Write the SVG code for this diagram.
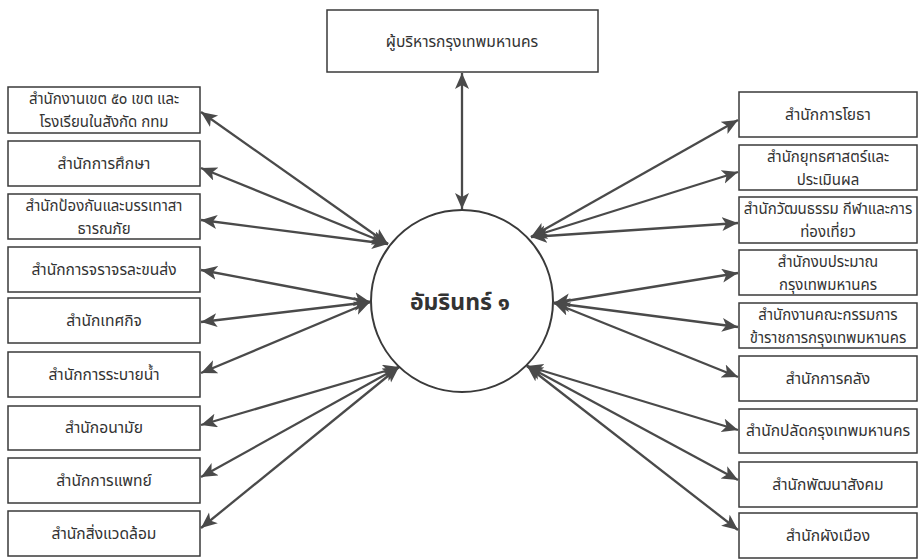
<svg xmlns="http://www.w3.org/2000/svg" width="919" height="559" viewBox="0 0 919 559">
<defs>
<style>
.box{fill:#fff;stroke:#3a3a3a;stroke-width:1.5}
.t{font-family:"Noto Sans Thai","Noto Sans Thai UI","Noto Sans","DejaVu Sans",sans-serif;font-size:15.6px;fill:#333;text-anchor:middle}
.t2{font-size:15px}
.big{font-family:"Noto Sans Thai","Noto Sans Thai UI","Noto Sans","DejaVu Sans",sans-serif;font-size:23px;font-weight:bold;fill:#333;text-anchor:middle}
.c{fill:none;stroke:#4a4a4a;stroke-width:2.3;marker-start:url(#ah);marker-end:url(#ah)}
</style>
<marker id="ah" markerUnits="userSpaceOnUse" markerWidth="18" markerHeight="16" refX="16" refY="7" orient="auto-start-reverse" viewBox="0 0 18 16">
<path d="M0,0 L16,7 L0,14 L4,7 Z" fill="#4a4a4a"/>
</marker>
</defs>
<rect width="919" height="559" fill="#fff"/>
<g id="connectors">
<line class="c" x1="462" y1="73" x2="462" y2="209"/>
<line class="c" x1="201" y1="112" x2="388" y2="244"/>
<line class="c" x1="201" y1="168" x2="388" y2="244"/>
<line class="c" x1="201" y1="220" x2="388" y2="244"/>
<line class="c" x1="201" y1="270" x2="370" y2="302"/>
<line class="c" x1="201" y1="322" x2="370" y2="302"/>
<line class="c" x1="201" y1="373" x2="370" y2="302"/>
<line class="c" x1="201" y1="425" x2="399" y2="367"/>
<line class="c" x1="201" y1="477" x2="399" y2="367"/>
<line class="c" x1="201" y1="528" x2="399" y2="367"/>
<line class="c" x1="738" y1="120" x2="531" y2="237"/>
<line class="c" x1="738" y1="172" x2="531" y2="237"/>
<line class="c" x1="738" y1="223" x2="531" y2="237"/>
<line class="c" x1="738" y1="273" x2="554" y2="303"/>
<line class="c" x1="738" y1="327" x2="554" y2="303"/>
<line class="c" x1="738" y1="377" x2="554" y2="303"/>
<line class="c" x1="738" y1="430" x2="527" y2="366"/>
<line class="c" x1="738" y1="480" x2="527" y2="366"/>
<line class="c" x1="738" y1="530" x2="527" y2="366"/>
</g>
<g id="center">
<circle cx="462" cy="301" r="91" fill="#fff" stroke="#3a3a3a" stroke-width="2"/>
<text class="big" x="460" y="310">อัมรินทร์ ๑</text>
</g>
<g id="top"><rect class="box" x="327" y="10" width="271" height="62"/><text class="t" x="462" y="47">ผู้บริหารกรุงเทพมหานคร</text></g>
<g id="l1"><rect class="box" x="8" y="87" width="192" height="46"/><text class="t t2" x="104" y="104">สำนักงานเขต ๕๐ เขต และ</text><text class="t t2" x="104" y="127">โรงเรียนในสังกัด กทม</text></g>
<g id="l2"><rect class="box" x="8" y="141" width="192" height="45"/><text class="t" x="104" y="169">สำนักการศึกษา</text></g>
<g id="l3"><rect class="box" x="8" y="194" width="192" height="45"/><text class="t t2" x="104" y="211">สำนักป้องกันและบรรเทาสา</text><text class="t t2" x="104" y="234">ธารณภัย</text></g>
<g id="l4"><rect class="box" x="8" y="247" width="192" height="45"/><text class="t" x="104" y="275">สำนักการจราจรละขนส่ง</text></g>
<g id="l5"><rect class="box" x="8" y="298" width="192" height="45"/><text class="t" x="104" y="326">สำนักเทศกิจ</text></g>
<g id="l6"><rect class="box" x="8" y="352" width="192" height="45"/><text class="t" x="104" y="380">สำนักการระบายน้ำ</text></g>
<g id="l7"><rect class="box" x="8" y="406" width="192" height="44"/><text class="t" x="104" y="433">สำนักอนามัย</text></g>
<g id="l8"><rect class="box" x="8" y="458" width="192" height="45"/><text class="t" x="104" y="486">สำนักการแพทย์</text></g>
<g id="l9"><rect class="box" x="8" y="511" width="192" height="45"/><text class="t" x="104" y="539">สำนักสิ่งแวดล้อม</text></g>
<g id="r1"><rect class="box" x="739" y="92" width="178" height="45"/><text class="t" x="828" y="120">สำนักการโยธา</text></g>
<g id="r2"><rect class="box" x="739" y="145" width="178" height="45"/><text class="t t2" x="828" y="162">สำนักยุทธศาสตร์และ</text><text class="t t2" x="828" y="185">ประเมินผล</text></g>
<g id="r3"><rect class="box" x="739" y="197" width="178" height="46"/><text class="t t2" x="828" y="214">สำนักวัฒนธรรม กีฬาและการ</text><text class="t t2" x="828" y="237">ท่องเที่ยว</text></g>
<g id="r4"><rect class="box" x="739" y="250" width="178" height="45"/><text class="t t2" x="828" y="267">สำนักงบประมาณ</text><text class="t t2" x="828" y="290">กรุงเทพมหานคร</text></g>
<g id="r5"><rect class="box" x="739" y="303" width="178" height="45"/><text class="t t2" x="828" y="320">สำนักงานคณะกรรมการ</text><text class="t t2" x="828" y="343">ข้าราชการกรุงเทพมหานคร</text></g>
<g id="r6"><rect class="box" x="739" y="356" width="178" height="45"/><text class="t" x="828" y="384">สำนักการคลัง</text></g>
<g id="r7"><rect class="box" x="739" y="409" width="178" height="44"/><text class="t" x="828" y="436">สำนักปลัดกรุงเทพมหานคร</text></g>
<g id="r8"><rect class="box" x="739" y="462" width="178" height="45"/><text class="t" x="828" y="490">สำนักพัฒนาสังคม</text></g>
<g id="r9"><rect class="box" x="739" y="513" width="178" height="45"/><text class="t" x="828" y="541">สำนักผังเมือง</text></g>
</svg>
